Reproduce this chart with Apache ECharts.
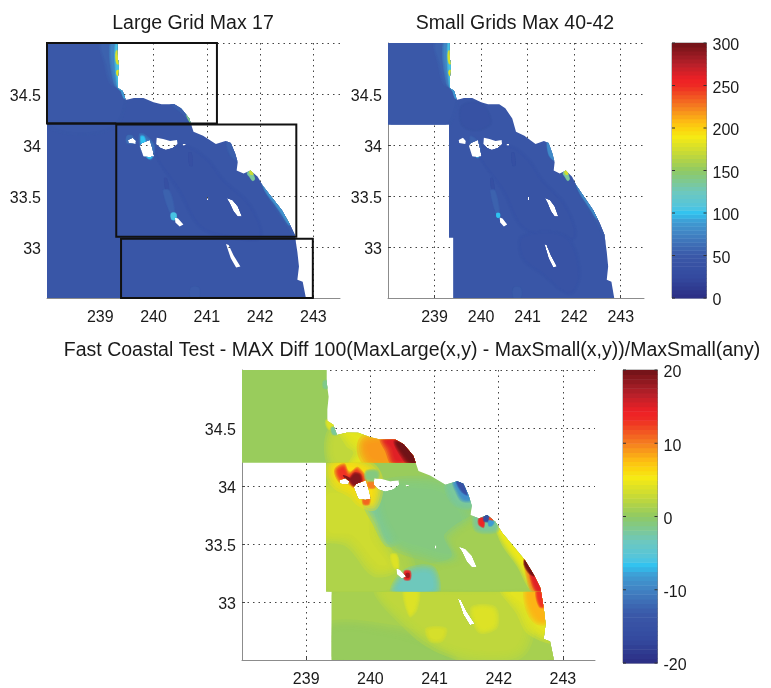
<!DOCTYPE html>
<html>
<head>
<meta charset="utf-8">
<style>html,body{margin:0;padding:0;background:#fff}#c{width:771px;height:688px}</style>
<script src="https://cdn.jsdelivr.net/npm/echarts@6/dist/echarts.min.js"></script>
</head>
<body>
<div id="c"></div>
<script>
// ---- colour scale ----
const cmapPos = [0, 0.083, 0.167, 0.25, 0.30, 0.333, 0.357, 0.417, 0.5, 0.567, 0.633, 0.667, 0.693, 0.75, 0.833, 0.86, 0.917, 1];
const cmapColors = ['#2b2d83', '#344a9f', '#3a58a8', '#4182c2', '#3f9bd3', '#2fc3f1', '#53c4dd', '#6dc8bf', '#8fc964', '#c5d938', '#f5ea14', '#fcd20f', '#fdbb13', '#f57f20', '#ee2a24', '#ee2025', '#b8202a', '#6f1317'];
const colorbarLevels = 64;

// ---- axis ticks ----
const lonMin = 238, lonMax = 243.5, latMin = 32.5, latMax = 35;
const titles = ['Large Grid Max 17', 'Small Grids Max 40-42', 'Fast Coastal Test - MAX Diff 100(MaxLarge(x,y) - MaxSmall(x,y))/MaxSmall(any)'];

// ---- coast (north to south) ----
const coastLon = [239.32,239.32,239.35,239.33,239.33,239.42,239.48,239.63,239.81,240.00,240.15,240.39,240.52,240.67,240.75,240.93,241.17,241.35,241.45,241.53,241.58,241.56,241.69,241.82,241.95,242.05,242.23,242.41,242.55,242.65,242.70,242.73,242.70,242.80,242.86];
const coastLat = [35,34.89,34.77,34.66,34.56,34.53,34.44,34.46,34.46,34.42,34.40,34.40,34.36,34.26,34.13,34.09,34.01,34.04,34.02,33.92,33.83,33.75,33.72,33.75,33.69,33.60,33.48,33.36,33.23,33.12,32.95,32.81,32.68,32.66,32.50];

// small-grid footprint, west side
const smallWestLon = [239.40,239.40,239.31,239.31,238];
const smallWestLat = [32.5,33.09,33.09,34.20,34.20];

// grid seams of the difference field
const seamLats = [34.2, 33.09];

// ---- islands ----
const islandLons = [
  [239.52,239.61,239.67,239.66,239.53],
  [239.78,239.93,239.98,240.01,239.92,239.81,239.74],
  [240.06,240.18,240.31,240.44,240.45,240.36,240.23,240.13,240.05],
  [240.55,240.6,240.6,240.55],
  [241.0,241.03,241.03,241.0],
  [240.40,240.46,240.56,240.49,240.41],
  [241.37,241.48,241.58,241.66,241.58,241.5,241.43],
  [241.36,241.41,241.5,241.63,241.55,241.45]
];
const islandLats = [
  [34.05,34.07,34.04,34.01,34.02],
  [34.02,34.05,33.96,33.89,33.88,33.89,33.99],
  [34.07,34.06,34.04,34.05,34.01,33.97,33.95,33.97,34.01],
  [34.01,34.01,33.995,33.995],
  [33.49,33.49,33.46,33.46],
  [33.29,33.28,33.22,33.2,33.24],
  [33.48,33.46,33.4,33.3,33.3,33.35,33.43],
  [33.03,33.02,32.92,32.81,32.8,32.89]
];

// ---- grid boxes on the first panel ----
const boxWest = [238, 239.30, 239.39];
const boxEast = [241.19, 242.68, 242.99];
const boxNorth = [35, 34.20, 33.08];
const boxSouth = [34.21, 33.10, 32.5];

// ---- panel 1: large grid maxima ----
const largeValues = [47,50,56,76,105,180,185,90,54,95,140,43,36,36,53,85,135,172,150,66,100,62,56,105,54,52];
const largeLons = [
  [238,244,244,238],[238,239.3,239.3,238],
  [239.02,239.4,239.4,239.22,239.1],[239.2,239.4,239.4,239.28],[239.29,239.4,239.4,239.33],
  [239.3,239.4,239.4,239.31],[239.31,239.4,239.4,239.32],
  [239.38,239.5,239.5,239.44],
  [240.25,240.8,240.75,240.55,240.32],[240.42,240.8,240.74,240.6,240.44],[240.62,240.75,240.72,240.64],
  [240.05,240.6,241.0,241.3,241.8,242.0,241.5,240.9,240.5],
  [240.2,240.25,240.29,240.25],[240.66,240.71,240.73,240.68],
  [241.95,242.05,242.45,242.72,242.8,242.65,242.4,242.1],
  [242.03,242.12,242.28,242.44,242.58,242.54,242.4,242.25,242.1],
  [241.76,241.82,241.9,241.86,241.8],[241.8,241.84,241.87,241.82],[242.47,242.52,242.55,242.49],
  [239.74,239.82,240.0,239.98,239.94,239.78],[239.76,239.82,239.88,239.95,239.98,239.95,239.9,239.8],
  [239.5,239.6,239.66,239.5],[240.18,240.3,240.4,240.36],[240.33,240.42,240.42,240.34],
  [241.38,241.6,241.6,241.44],[240.7,240.85,240.85,240.7]
];
const largeLats = [
  [35,35,32.5,32.5],[35,35,34.21,34.21],
  [35,35,34.6,34.6,34.8],[35,35,34.56,34.6],[35,35,34.54,34.58],
  [34.92,34.92,34.8,34.8],[34.73,34.73,34.68,34.68],
  [34.58,34.55,34.46,34.46],
  [34.46,34.22,34.18,34.3,34.4],[34.46,34.22,34.2,34.32,34.42],[34.3,34.22,34.2,34.26],
  [33.95,33.98,33.85,33.65,33.4,33.1,33.1,33.2,33.55],
  [33.67,33.67,33.53,33.52],[33.92,33.92,33.8,33.8],
  [33.72,33.66,33.36,33.1,32.9,33.1,33.3,33.55],
  [33.64,33.58,33.47,33.35,33.22,33.22,33.33,33.44,33.55],
  [33.72,33.76,33.67,33.65,33.69],[33.74,33.76,33.71,33.71],[33.34,33.3,33.24,33.3],
  [34.1,34.1,34.0,33.88,33.86,33.95],[34.08,34.08,33.98,33.95,33.9,33.87,33.87,33.95],
  [34.09,34.09,34.02,34.02],[33.55,33.55,33.32,33.28],[33.33,33.33,33.27,33.27],
  [34.05,34.05,33.85,33.9],[32.6,32.6,32.5,32.5]
];

// ---- panel 2: small grid maxima ----
const smallValues = [46,50,56,76,105,180,185,90,39,43,41,35,35,52,80,135,176,130,56,95,80,56,100,52];
const smallLons = [
  [238,244,244,238],[238,239.3,239.3,238],
  [239.02,239.4,239.4,239.22,239.1],[239.2,239.4,239.4,239.28],[239.29,239.4,239.4,239.33],
  [239.3,239.4,239.4,239.31],[239.31,239.4,239.4,239.32],
  [239.38,239.5,239.5,239.44],
  [239.6,240.0,240.2,239.9,239.6],
  [239.95,240.6,241.0,241.3,241.8,242.0,241.5,240.9,240.5],
  [240.9,241.8,242.1,241.9,241.3,240.9],
  [240.2,240.25,240.29,240.25],[240.66,240.71,240.73,240.68],
  [241.95,242.05,242.45,242.72,242.8,242.65,242.4,242.1],
  [242.03,242.12,242.28,242.44,242.52,242.48,242.38,242.25,242.1],
  [241.76,241.82,241.9,241.86,241.8],[241.79,241.84,241.87,241.82],[242.47,242.5,242.53,242.49],
  [239.76,239.82,239.98,239.96,239.92,239.8],[239.8,239.86,239.9,239.95,239.97,239.94,239.9,239.82],
  [241.42,241.52,241.58,241.46],[240.2,240.3,240.4,240.36],[240.33,240.4,240.4,240.34],[240.7,240.85,240.85,240.7]
];
const smallLats = [
  [35,35,32.5,32.5],[35,35,34.21,34.21],
  [35,35,34.6,34.6,34.8],[35,35,34.56,34.6],[35,35,34.54,34.58],
  [34.92,34.92,34.8,34.8],[34.73,34.73,34.68,34.68],
  [34.58,34.55,34.46,34.46],
  [34.38,34.4,34.22,34.15,34.2],
  [33.95,33.98,33.85,33.65,33.4,33.1,33.1,33.2,33.55],
  [33.1,33.1,32.75,32.55,32.75,32.9],
  [33.67,33.67,33.53,33.52],[33.92,33.92,33.8,33.8],
  [33.72,33.66,33.36,33.1,32.9,33.1,33.3,33.55],
  [33.64,33.58,33.47,33.35,33.28,33.28,33.35,33.44,33.55],
  [33.72,33.76,33.67,33.65,33.69],[33.74,33.76,33.71,33.71],[33.34,33.3,33.26,33.3],
  [34.08,34.08,34.0,33.88,33.87,33.95],[34.0,34.0,33.96,33.95,33.92,33.88,33.88,33.95],
  [34.04,34.0,33.85,33.9],[33.55,33.55,33.32,33.28],[33.33,33.33,33.29,33.29],[32.6,32.6,32.5,32.5]
];

// ---- panel 3: percent difference ----
const diffValues = [0.5,1.2,0.4,2.4,4,4,3.6,4.4,8,13,1.6,3.2,-2.6,-1,1,-3.2,5,10,15,20,2.5,4.5,9,15,20,-1.5,4,-2,6,13,19,10,11,-1,14,18,4,-2,-9,-15,-2,14,-16,12,-8];
const diffLons = [
  [238,244,244,238],
  [239.4,242.85,242.9,239.4],
  [239.4,240.3,240.9,241.2,239.4],
  [240.2,241.1,241.9,242.1,242.4,242.3,241.8,241.2,240.7],
  [240.55,240.72,240.68,240.62],
  [241.62,241.9,241.92,241.72],
  [240.9,241.15,241.1,240.95],
  [242.15,242.72,242.8,242.55,242.38],
  [242.47,242.68,242.73,242.62,242.5],
  [242.6,242.68,242.72,242.65],
  [239.31,240.1,240.3,240.55,240.4,239.31],
  [239.31,239.95,240.05,240.3,240.1,239.7,239.31],
  [240.0,240.26,240.57,240.52,240.31,240.18],
  [240.2,240.9,241.3,241.5,241.3,240.8,240.4],
  [241.3,241.9,242.3,242.6,242.6,241.0,240.9,241.4],
  [240.41,240.57,240.93,240.98],
  [241.95,242.05,242.41,242.65,242.60,242.52,242.35,242.1],
  [242.41,242.55,242.65,242.55,242.47],
  [242.49,242.6,242.66,242.6,242.53],
  [242.41,242.55,242.49,242.41],
  [239.45,239.9,239.9,239.45],
  [239.63,240,240.39,240.67,240.75,240.62,239.79,239.89,239.74],
  [239.94,240.18,240.41,240.67,240.70,240.62,240.05,239.93],
  [240.23,240.41,240.67,240.72,240.62,240.39,240.31],
  [240.41,240.52,240.67,240.75,240.67,240.52],
  [239.28,239.36,239.36,239.28],
  [239.33,239.48,239.48,239.36],
  [239.4,239.48,239.48,239.42],
  [239.45,239.58,239.79,240,240.07,240.02,239.89,239.74,239.53,239.45],
  [239.5,239.58,239.66,239.79,239.89,239.79,239.66,239.55],
  [239.58,239.66,239.76,239.83,239.84,239.75,239.66],
  [239.97,240.06,240.06,239.97],
  [239.9,239.97,239.97,239.9],
  [239.95,240.1,240.1,239.95],
  [240.54,240.61,240.61,240.54],
  [240.56,240.6,240.6,240.56],
  [240.33,240.4,240.43,240.38],
  [241.22,241.35,241.53,241.58,241.35],
  [241.32,241.45,241.55,241.45,241.37],
  [241.35,241.43,241.5,241.43],
  [241.68,241.95,241.95,241.68],
  [241.70,241.76,241.76,241.70],
  [241.78,241.84,241.85,241.78],
  [241.86,241.91,241.88,241.86],
  [241.85,241.92,241.89,241.85]
];
const diffLats = [
  [35,35,32.5,32.5],
  [33.09,33.09,32.5,32.5],
  [32.75,32.72,32.62,32.5,32.5],
  [33.09,33.09,33.09,33.09,32.85,32.6,32.55,32.62,32.8],
  [33.09,33.09,32.94,32.9],
  [32.93,32.93,32.8,32.77],
  [32.76,32.76,32.68,32.68],
  [33.09,33.09,32.72,32.78,32.95],
  [33.09,33.09,32.85,32.85,32.95],
  [33.09,33.09,32.97,32.97],
  [34.2,33.85,33.55,33.3,33.1,33.1],
  [33.95,33.85,33.55,33.32,33.3,33.55,33.6],
  [33.89,33.95,33.87,33.66,33.55,33.69],
  [33.95,34.0,33.9,33.6,33.4,33.45,33.55],
  [33.55,33.7,33.45,33.15,33.1,33.1,33.25,33.35],
  [33.1,33.23,33.26,33.1],
  [33.69,33.6,33.36,33.12,33.1,33.15,33.33,33.53],
  [33.36,33.23,33.1,33.1,33.23],
  [33.29,33.2,33.1,33.1,33.19],
  [33.36,33.23,33.25,33.32],
  [34.45,34.45,34.21,34.21],
  [34.46,34.42,34.40,34.26,34.13,34.21,34.21,34.29,34.4],
  [34.37,34.4,34.4,34.26,34.17,34.21,34.21,34.29],
  [34.39,34.4,34.26,34.16,34.21,34.21,34.32],
  [34.37,34.36,34.26,34.13,34.17,34.27],
  [34.9,34.9,34.85,34.85],
  [34.56,34.56,34.5,34.5],
  [34.5,34.5,34.45,34.45],
  [34.16,34.19,34.18,34.12,34.0,33.86,33.89,33.97,34.03,34.09],
  [34.13,34.16,34.09,34.13,34.05,34.01,34.05,34.06],
  [34.09,34.05,34.1,34.09,34.03,34.01,34.07],
  [34.03,34.03,33.99,33.99],
  [33.92,33.92,33.85,33.85],
  [34.12,34.12,34.06,34.06],
  [33.26,33.26,33.2,33.2],
  [33.245,33.245,33.215,33.215],
  [33.4,33.4,33.3,33.3],
  [34.0,34.04,33.92,33.83,33.86],
  [34.03,34.03,33.89,33.89,33.96],
  [34.04,34.03,33.93,33.96],
  [33.78,33.78,33.64,33.64],
  [33.72,33.72,33.65,33.67],
  [33.75,33.75,33.70,33.70],
  [33.73,33.72,33.68,33.68],
  [33.7,33.69,33.66,33.66]
];

// ---- helpers ----
function hex(c){return [1,3,5].map(i=>parseInt(c.substr(i,2),16));}
function colorAt(t){
  t=Math.max(0,Math.min(1,t));
  let i=0; while(i<cmapPos.length-2 && t>cmapPos[i+1]) i++;
  const f=(t-cmapPos[i])/(cmapPos[i+1]-cmapPos[i]);
  const a=hex(cmapColors[i]),b=hex(cmapColors[i+1]);
  return 'rgb('+a.map((v,k)=>Math.round(v+(b[k]-v)*f)).join(',')+')';
}
function zip(lons,lats){return lons.map((l,i)=>[l,lats[i]]);}
function area(p){let s=0;p.forEach((q,i)=>{const r=p[(i+1)%p.length];s+=q[0]*r[1]-r[0]*q[1];});return s/2;}
const coastRing = zip(coastLon,coastLat);
const fullRing = [[238,32.5],[238,35]].concat(coastRing);
const smallRing = [[238,35]].concat(coastRing, zip(smallWestLon,smallWestLat));
function clipFor(ring,api){
  const ringSign = area(ring)>0?1:-1;
  let pts=[ring[0]];
  islandLons.forEach((lons,i)=>{
    let isl=zip(lons,islandLats[i]);
    if((area(isl)>0?1:-1)===ringSign) isl=isl.slice().reverse();
    pts=pts.concat(isl,[isl[0],ring[0]]);
  });
  pts=pts.concat(ring.slice(1));
  return {type:'polygon',shape:{points:pts.map(p=>api.coord(p))}};
}
// soft-edged drawing: the outline pushed out / pulled in by d pixels
function offsetPoly(pts,d){
  const a=area(pts), sign=a>0?1:-1, n=pts.length;
  return pts.map((p,i)=>{
    const q=pts[(i+n-1)%n], r=pts[(i+1)%n];
    let ux=p[0]-q[0],uy=p[1]-q[1],vx=r[0]-p[0],vy=r[1]-p[1];
    const lu=Math.hypot(ux,uy)||1,lv=Math.hypot(vx,vy)||1;
    let nx=uy/lu+vy/lv, ny=-ux/lu-vx/lv;
    const ln=Math.hypot(nx,ny)||1;
    return [p[0]+sign*nx/ln*d, p[1]+sign*ny/ln*d];
  });
}
function fieldSeries(idx,values,lons,lats,ring,lo,hi,offsets,seams){
  return {
    type:'custom',xAxisIndex:idx,yAxisIndex:idx,animation:false,silent:true,
    data:values.map((v,i)=>[lons[i][0],lats[i][0],v]),
    renderItem:function(params,api){
      const i=params.dataIndex;
      const pts=zip(lons[i],lats[i]).map(p=>api.coord(p));
      const col=colorAt((api.value(2)-lo)/(hi-lo));
      const clip=clipFor(ring,api);
      if(i===0) return {type:'polygon',shape:{points:pts},clipPath:clip,style:{fill:col}};
      const a0=area(pts);
      const sz=Math.min(1,Math.sqrt(Math.abs(a0))/34);
      const layers=[];
      offsets.forEach(o=>{
        const ring2=offsetPoly(pts,o*sz);
        if(area(ring2)*a0>Math.abs(a0)*a0*0.05) layers.push(ring2);
      });
      const children=layers.map((l,k)=>({type:'polygon',shape:{points:l,smooth:0.35},
        style:{fill:col,opacity:k===layers.length-1?1:0.36}}));
      let inner={type:'group',children};
      if(seams.length){
        const mean=lats[i].reduce((s,v)=>s+v,0)/lats[i].length;
        const top=mean>seams[0]?latMax:(mean>seams[1]?seams[0]:seams[1]);
        const bot=mean>seams[0]?seams[0]:(mean>seams[1]?seams[1]:latMin);
        const a=api.coord([lonMin,top]),b=api.coord([lonMax,bot]);
        inner.clipPath={type:'rect',shape:{x:a[0],y:a[1],width:b[0]-a[0],height:b[1]-a[1]}};
      }
      return {type:'group',clipPath:clip,children:[inner]};
    }
  };
}
function colorbarSeries(idx,lo,hi){
  const d=[];for(let i=0;i<colorbarLevels;i++)d.push([0,lo+(hi-lo)*i/colorbarLevels,1,lo+(hi-lo)*(i+1)/colorbarLevels]);
  return {type:'custom',xAxisIndex:idx,yAxisIndex:idx,animation:false,silent:true,data:d,
    renderItem:function(p,api){
      const a=api.coord([0,api.value(1)]),b=api.coord([1,api.value(3)]);
      return {type:'rect',shape:{x:a[0],y:b[1],width:b[0]-a[0],height:a[1]-b[1]+0.5},
        style:{fill:colorAt((p.dataIndex+0.5)/colorbarLevels)}};
    }};
}
const font='"Liberation Sans",Arial,sans-serif';
const axisGray='#8c8c8c';
function mapX(i){return {type:'value',gridIndex:i,min:lonMin,max:lonMax,interval:1,
  axisLine:{show:true,onZero:false,lineStyle:{color:axisGray}},axisTick:{inside:true,length:3,lineStyle:{color:'#444'}},
  axisLabel:{color:'#1a1a1a',fontFamily:font,fontSize:16,margin:12,showMaxLabel:false,showMinLabel:false,
    formatter:v=>Number.isInteger(v)?String(v):''},
  splitLine:{show:true,showMinLine:false,showMaxLine:false,lineStyle:{color:'#444',type:[1.5,4],width:1}}};}
function mapY(i){return {type:'value',gridIndex:i,min:latMin,max:latMax,interval:0.5,
  axisLine:{show:true,onZero:false,lineStyle:{color:axisGray}},axisTick:{inside:true,length:3,lineStyle:{color:'#444'}},
  axisLabel:{color:'#1a1a1a',fontFamily:font,fontSize:16,margin:6,verticalAlign:'top',lineHeight:6,showMaxLabel:false,showMinLabel:false},
  splitLine:{show:true,showMinLine:false,showMaxLine:true,lineStyle:{color:'#444',type:[1.5,4],width:1}}};}
function barX(i){return {type:'value',gridIndex:i,min:0,max:1,show:false};}
function barY(i,lo,hi,step){return {type:'value',gridIndex:i,min:lo,max:hi,interval:step,position:'right',
  axisLine:{show:false},axisTick:{show:false},splitLine:{show:false},
  axisLabel:{color:'#1a1a1a',fontFamily:font,fontSize:16,margin:6,verticalAlign:'top',lineHeight:6}};}
const grids=[
  {left:47,top:43,width:293,height:255},
  {left:388,top:43,width:256,height:255},
  {left:242,top:370,width:353,height:293},
  {left:672,top:43,width:34.5,height:255},
  {left:623,top:370,width:34.5,height:293}
];
const barFrame=(i,lo,hi,step)=>{
  const t=[];for(let v=lo;v<=hi;v+=step)t.push([0,v]);
  return {type:'custom',xAxisIndex:i,yAxisIndex:i,animation:false,silent:true,z:5,data:t,
    renderItem:function(p,api){
      const a=api.coord([0,api.value(1)]),b=api.coord([1,api.value(1)]);
      return {type:'group',children:[
        {type:'line',shape:{x1:a[0],y1:a[1],x2:a[0]+3,y2:a[1]},style:{stroke:'#333',lineWidth:1}},
        {type:'line',shape:{x1:b[0]-3,y1:b[1],x2:b[0],y2:b[1]},style:{stroke:'#333',lineWidth:1}}
      ]};
    }};
};
const boxSeries={type:'custom',xAxisIndex:0,yAxisIndex:0,animation:false,silent:true,z:6,
  data:boxWest.map((w,i)=>[w,boxNorth[i],boxEast[i],boxSouth[i]]),
  renderItem:function(p,api){
    const a=api.coord([api.value(0),api.value(1)]),b=api.coord([api.value(2),api.value(3)]);
    return {type:'rect',shape:{x:a[0],y:a[1],width:b[0]-a[0],height:b[1]-a[1]},style:{fill:null,stroke:'#111',lineWidth:2}};
  }};
const boxExtra={type:'custom',xAxisIndex:0,yAxisIndex:0,animation:false,silent:true,z:5,data:[[238,34.21,239.3,34.21]],
  renderItem:function(p,api){
    const a=api.coord([api.value(0),api.value(1)]),b=api.coord([api.value(2),api.value(3)]);
    return {type:'line',shape:{x1:a[0],y1:a[1],x2:b[0],y2:b[1]},style:{stroke:'#111',lineWidth:2}};
  }};
const titleStyle={fontFamily:font,fontSize:19.5,fontWeight:'normal',color:'#1a1a1a'};
const chart=echarts.init(document.getElementById('c'),null,{renderer:'canvas'});
chart.setOption({
  backgroundColor:'#fff',animation:false,
  title:[
    {text:titles[0],left:193,top:14,padding:0,textAlign:'center',textStyle:titleStyle},
    {text:titles[1],left:515,top:14,padding:0,textAlign:'center',textStyle:titleStyle},
    {text:titles[2],left:412,top:341,padding:0,textAlign:'center',textStyle:titleStyle}
  ],
  grid:grids.map((g,i)=>Object.assign({containLabel:false,show:i>2,borderColor:axisGray,borderWidth:1,backgroundColor:'transparent'},g)),
  xAxis:[mapX(0),mapX(1),mapX(2),barX(3),barX(4)],
  yAxis:[mapY(0),mapY(1),mapY(2),barY(3,0,300,50),barY(4,-20,20,10)],
  series:[
    fieldSeries(0,largeValues,largeLons,largeLats,fullRing,0,300,[3,2,1,0,-1],[]),
    fieldSeries(1,smallValues,smallLons,smallLats,smallRing,0,300,[3,2,1,0,-1],[]),
    fieldSeries(2,diffValues,diffLons,diffLats,smallRing,-20,20,[10,7,4.5,2.5,1,-1,-3],seamLats),
    boxExtra,boxSeries,
    colorbarSeries(3,0,300),colorbarSeries(4,-20,20),
    barFrame(3,0,300,50),barFrame(4,-20,20,10)
  ]
});
</script>
</body>
</html>
